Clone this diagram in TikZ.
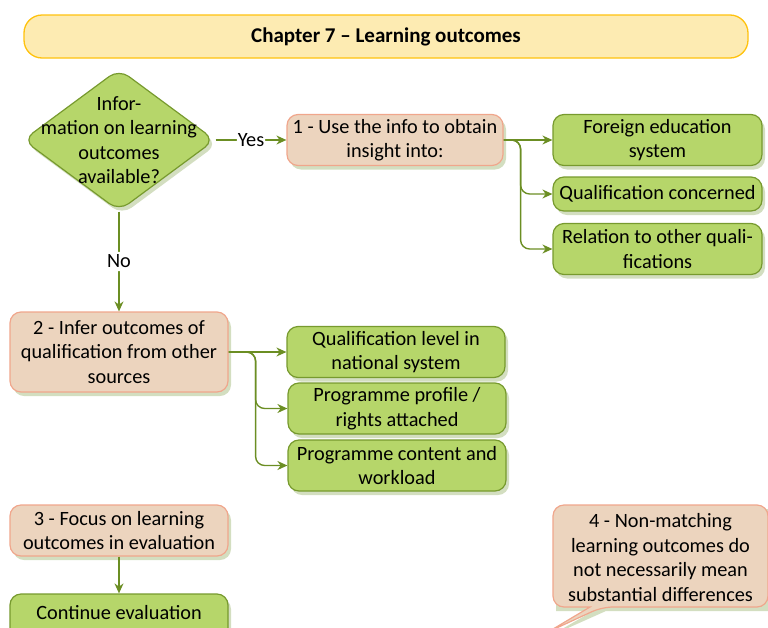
\documentclass[tikz,border=0pt]{standalone}
\usepackage{fontspec}
\setmainfont{Carlito}
\usetikzlibrary{shapes.geometric,shadows,arrows.meta,calc}
\definecolor{gfill}{HTML}{B6D66A}
\definecolor{gdraw}{HTML}{779A2E}
\definecolor{pfill}{HTML}{ECD4BE}
\definecolor{pdraw}{HTML}{F0A68C}
\definecolor{tfill}{HTML}{FDEBB2}
\definecolor{tdraw}{HTML}{FFC20E}
\definecolor{cline}{HTML}{6B8E23}
\definecolor{shad}{HTML}{D3DEC0}
\tikzset{
  x=1pt,y=-1pt,
  every node/.style={font=\fontsize{20.3}{24.5}\selectfont, align=center, inner sep=0pt},
  shd/.style={drop shadow={shadow xshift=3pt,shadow yshift=-4pt,fill=shad,opacity=1}},
  gbox/.style={draw=gdraw, line width=1.2pt, fill=gfill, rounded corners=11pt, shd},
  pbox/.style={draw=pdraw, line width=1.2pt, fill=pfill, rounded corners=11pt, shd},
  conn/.style={draw=cline, line width=1.4pt, -{Stealth[length=10pt,width=9pt]}, rounded corners=9pt},
}
\begin{document}
\begin{tikzpicture}
\useasboundingbox (0,0) rectangle (768,627);
% title
\node[draw=tdraw, line width=1.3pt, fill=tfill, rounded corners=18pt, minimum width=724pt, minimum height=43pt, font=\fontsize{21}{24}\selectfont\bfseries] (title) at (386,36.5) {Chapter 7 -- Learning outcomes};
% diamond
\node[diamond, draw=gdraw, line width=1.2pt, fill=gfill, rounded corners=12pt, minimum width=192pt, minimum height=142pt, shd] (q) at (119,140) {};
\node (qt) at (119,140) {Infor-\\mation on learning\\outcomes\\available?};
% box 1
\node[pbox, minimum width=216pt, minimum height=51pt] (b1) at (395,140) {1 - Use the info to obtain\\insight into:};
\node[gbox, minimum width=209pt, minimum height=51pt] (ga) at (657.5,140) {Foreign education\\system};
\node[gbox, minimum width=209pt, minimum height=34pt] (gb) at (657.5,194) {Qualification concerned};
\node[gbox, minimum width=209pt, minimum height=51pt] (gc) at (657.5,249) {Relation to other quali-\\fications};
% box 2
\node[pbox, minimum width=218pt, minimum height=80pt] (b2) at (119,352) {2 - Infer outcomes of\\qualification from other\\sources};
\node[gbox, minimum width=218pt, minimum height=51pt] (gd) at (396,352) {Qualification level in\\national system};
\node[gbox, minimum width=218pt, minimum height=51pt] (ge) at (397,408.5) {Programme profile /\\rights attached};
\node[gbox, minimum width=218pt, minimum height=51pt] (gf) at (397,465.5) {Programme content and\\workload};
% box 3
\node[pbox, minimum width=218pt, minimum height=51pt] (b3) at (119,530.5) {3 - Focus on learning\\outcomes in evaluation};
\node[gbox, minimum width=218pt, minimum height=51pt] (gg) at (119,619.5) {};
\node (ggt) at (119,613) {Continue evaluation};
% callout 4
\coordinate (c1) at (553,505);
\coordinate (c2) at (768,505);
\coordinate (c3) at (768,607);
\coordinate (tp) at (548,632);
\fill[shad] ($(c1)+(3,4)$) -- ($(c2)+(3,4)$) -- ($(c3)+(3,4)$) -- (606,611) -- (550,636) -- (593,611) -- (556,611) -- cycle;
\draw[draw=pdraw, line width=1.2pt, fill=pfill, rounded corners=11pt] (c1) -- (c2) -- (c3) -- (602,607) [sharp corners] -- (tp) -- (590,607) [rounded corners=11pt] -- (553,607) -- cycle;
\node (c4) at (660.5,557.5) {4 - Non-matching\\learning outcomes do\\not necessarily mean\\substantial differences};
% connectors
\draw[conn] (q.east) -- node[fill=white, inner xsep=1pt] {Yes} (b1.west);
\draw[conn] (q.south) -- node[fill=white, inner ysep=3pt] {No} (b2.north);
\draw[conn] (b1.east) -- (ga.west);
\draw[conn] (b1.east) -| ($(b1.east)+(17,30)$) |- (gb.west);
\draw[conn] (b1.east) -| ($(b1.east)+(17,30)$) |- (gc.west);
\draw[conn] (b2.east) -- (gd.west);
\draw[conn] (b2.east) -| ($(b2.east)+(27,30)$) |- (ge.west);
\draw[conn] (b2.east) -| ($(b2.east)+(27,30)$) |- (gf.west);
\draw[conn] (b3.south) -- (gg.north);
\end{tikzpicture}
\end{document}
